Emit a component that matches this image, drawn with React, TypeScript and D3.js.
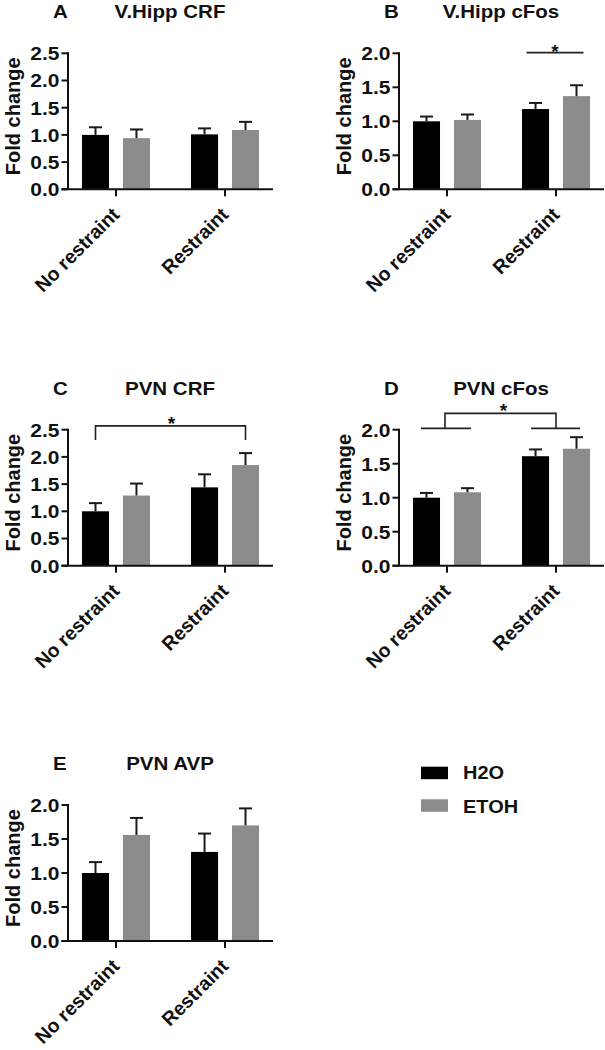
import React from "react";
import * as d3 from "d3";

const groups = ["No restraint", "Restraint"];
const seriesNames = ["H2O", "ETOH"];
const seriesColors = ["#000000", "#8c8c8c"];

const ticks25 = [0, 0.5, 1.0, 1.5, 2.0, 2.5];
const ticks20 = [0, 0.5, 1.0, 1.5, 2.0];

// Panel A: V.Hipp CRF
const aH2O = [1.0, 1.01];
const aH2OErr = [0.14, 0.11];
const aETOH = [0.94, 1.09];
const aETOHErr = [0.16, 0.15];
// Panel B: V.Hipp cFos
const bH2O = [1.0, 1.18];
const bH2OErr = [0.07, 0.09];
const bETOH = [1.02, 1.37];
const bETOHErr = [0.08, 0.16];
// Panel C: PVN CRF
const cH2O = [1.0, 1.44];
const cH2OErr = [0.15, 0.24];
const cETOH = [1.29, 1.85];
const cETOHErr = [0.22, 0.22];
// Panel D: PVN cFos
const dH2O = [1.0, 1.61];
const dH2OErr = [0.07, 0.1];
const dETOH = [1.08, 1.72];
const dETOHErr = [0.06, 0.17];
// Panel E: PVN AVP
const eH2O = [1.0, 1.31];
const eH2OErr = [0.16, 0.27];
const eETOH = [1.56, 1.7];
const eETOHErr = [0.25, 0.25];

const FONT = "'Liberation Sans', Arial, Helvetica, sans-serif";
const SQ = 0.9;
const PLOT_W = 205;
const PLOT_H = 136;

type PanelProps = {
  letter: string;
  title: string;
  axisX: number;
  bottom: number;
  yMax: number;
  ticks: number[];
  h2o: number[];
  h2oErr: number[];
  etoh: number[];
  etohErr: number[];
  sig?: (x: d3.ScalePoint<string>, inner: d3.ScaleBand<string>, y: d3.ScaleLinear<number, number>) => React.ReactNode;
};

function HText(props: { x: number; y: number; size: number; anchor?: string; sq?: number; children: React.ReactNode }) {
  const { x, y, size, anchor = "start", sq = SQ, children } = props;
  return (
    <text
      transform={`translate(${x},${y}) scale(1,${sq})`}
      fontSize={size}
      fontWeight="bold"
      fontFamily={FONT}
      textAnchor={anchor}
      fill="#111"
    >
      {children}
    </text>
  );
}

function Panel(p: PanelProps) {
  const x = d3.scalePoint<string>().domain(groups).range([p.axisX, p.axisX + PLOT_W]).padding(0.44);
  const inner = d3.scaleBand<string>().domain(seriesNames).range([-34, 34]).paddingInner(0.34);
  const y = d3.scaleLinear().domain([0, p.yMax]).range([p.bottom, p.bottom - PLOT_H]);
  const fmt = d3.format(".1f");
  const vals = [p.h2o, p.etoh];
  const errs = [p.h2oErr, p.etohErr];
  const top = p.bottom - PLOT_H;
  return (
    <g>
      <HText x={p.axisX - 15} y={top - 35} size={20.5} sq={0.92}>{p.letter}</HText>
      <HText x={p.axisX + 102} y={top - 35} size={20.5} sq={0.92} anchor="middle">{p.title}</HText>
      <text
        transform={`translate(${p.axisX - 48.5},${(top + p.bottom) / 2 - 5}) rotate(-90)`}
        fontSize={20}
        fontWeight="bold"
        fontFamily={FONT}
        textAnchor="middle"
        fill="#111"
      >
        Fold change
      </text>
      {seriesNames.map((s, si) =>
        groups.map((g, gi) => {
          const bx = (x(g) as number) + (inner(s) as number);
          const bw = inner.bandwidth();
          const v = vals[si][gi];
          const e = errs[si][gi];
          const cx = bx + bw / 2;
          return (
            <g key={s + g}>
              <rect x={bx} y={y(v)} width={bw} height={p.bottom - y(v)} fill={seriesColors[si]} />
              <line x1={cx} x2={cx} y1={y(v)} y2={y(v + e)} stroke="#1a1a1a" strokeWidth={2} />
              <line x1={cx - 6.5} x2={cx + 6.5} y1={y(v + e)} y2={y(v + e)} stroke="#1a1a1a" strokeWidth={2} />
            </g>
          );
        })
      )}
      <line x1={p.axisX} x2={p.axisX} y1={p.bottom} y2={top - 1} stroke="#111" strokeWidth={2} />
      <line x1={p.axisX - 6.5} x2={p.axisX + PLOT_W} y1={p.bottom} y2={p.bottom} stroke="#111" strokeWidth={2} />
      {p.ticks.map((t) => (
        <g key={t}>
          <line x1={p.axisX - 6.5} x2={p.axisX} y1={y(t)} y2={y(t)} stroke="#111" strokeWidth={2} />
          <HText x={p.axisX - 8.5} y={y(t) + 6.8} size={21} anchor="end">{fmt(t)}</HText>
        </g>
      ))}
      {groups.map((g) => (
        <g key={g}>
          <line x1={x(g)} x2={x(g)} y1={p.bottom} y2={p.bottom + 7} stroke="#111" strokeWidth={2} />
          <text
            transform={`translate(${(x(g) as number) + 4.5},${p.bottom + 26.5}) rotate(-45)`}
            fontSize={19.5}
            fontWeight="bold"
            fontFamily={FONT}
            textAnchor="end"
            fill="#111"
          >
            {g}
          </text>
        </g>
      ))}
      {p.sig ? p.sig(x, inner, y) : null}
    </g>
  );
}

function Star(props: { x: number; y: number }) {
  return (
    <text x={props.x} y={props.y} fontSize={19} fontWeight="bold" fontFamily={FONT} textAnchor="middle" fill="#111">
      *
    </text>
  );
}

export default function App() {
  const barCenter = (x: d3.ScalePoint<string>, inner: d3.ScaleBand<string>, g: string, s: string) =>
    (x(g) as number) + (inner(s) as number) + inner.bandwidth() / 2;

  const sigB = (x: d3.ScalePoint<string>, inner: d3.ScaleBand<string>, y: d3.ScaleLinear<number, number>) => {
    const x1 = barCenter(x, inner, "Restraint", "H2O") - 9;
    const x2 = barCenter(x, inner, "Restraint", "ETOH") + 7;
    const yy = y(2.01);
    return (
      <g>
        <line x1={x1} x2={x2} y1={yy} y2={yy} stroke="#222" strokeWidth={1.6} />
        <Star x={(x1 + x2) / 2} y={yy + 5} />
      </g>
    );
  };

  const sigC = (x: d3.ScalePoint<string>, inner: d3.ScaleBand<string>, y: d3.ScaleLinear<number, number>) => {
    const x1 = barCenter(x, inner, "No restraint", "H2O");
    const x2 = barCenter(x, inner, "Restraint", "ETOH");
    const yt = y(2.57);
    const yb = y(2.31);
    return (
      <g>
        <path d={`M${x1},${yb}V${yt}H${x2}V${yb}`} fill="none" stroke="#222" strokeWidth={1.6} />
        <Star x={(x1 + x2) / 2 + 1} y={yt + 4} />
      </g>
    );
  };

  const sigD = (x: d3.ScalePoint<string>, inner: d3.ScaleBand<string>, y: d3.ScaleLinear<number, number>) => {
    const g1 = (x("No restraint") as number) - 2;
    const g2 = x("Restraint") as number;
    const yl = y(2.02);
    const yt = y(2.24);
    return (
      <g>
        <line x1={g1 - 24} x2={g1 + 26} y1={yl} y2={yl} stroke="#222" strokeWidth={1.6} />
        <line x1={g2 - 25} x2={g2 + 24} y1={yl} y2={yl} stroke="#222" strokeWidth={1.6} />
        <path d={`M${g1},${yl}V${yt}H${g2}V${yl}`} fill="none" stroke="#222" strokeWidth={1.6} />
        <Star x={(g1 + g2) / 2 + 3} y={yt + 4} />
      </g>
    );
  };

  return (
    <svg
      width={605}
      height={1050}
      viewBox="0 0 605 1050"
      style={{ position: "absolute", left: 0, top: 0, background: "#fff", display: "block" }}
    >
      <rect x={0} y={0} width={605} height={1050} fill="#fff" />
      <Panel letter="A" title="V.Hipp CRF" axisX={68} bottom={189.3} yMax={2.5} ticks={ticks25}
        h2o={aH2O} h2oErr={aH2OErr} etoh={aETOH} etohErr={aETOHErr} />
      <Panel letter="B" title="V.Hipp cFos" axisX={399} bottom={189.3} yMax={2.0} ticks={ticks20}
        h2o={bH2O} h2oErr={bH2OErr} etoh={bETOH} etohErr={bETOHErr} sig={sigB} />
      <Panel letter="C" title="PVN CRF" axisX={68} bottom={565.7} yMax={2.5} ticks={ticks25}
        h2o={cH2O} h2oErr={cH2OErr} etoh={cETOH} etohErr={cETOHErr} sig={sigC} />
      <Panel letter="D" title="PVN cFos" axisX={399} bottom={565.7} yMax={2.0} ticks={ticks20}
        h2o={dH2O} h2oErr={dH2OErr} etoh={dETOH} etohErr={dETOHErr} sig={sigD} />
      <Panel letter="E" title="PVN AVP" axisX={68} bottom={941} yMax={2.0} ticks={ticks20}
        h2o={eH2O} h2oErr={eH2OErr} etoh={eETOH} etohErr={eETOHErr} />
      {seriesNames.map((s, i) => (
        <g key={s}>
          <rect x={421} y={766.7 + i * 32.6} width={27} height={12.5} fill={seriesColors[i]} />
          <HText x={463} y={779 + i * 33.7} size={20}>{s}</HText>
        </g>
      ))}
    </svg>
  );
}
